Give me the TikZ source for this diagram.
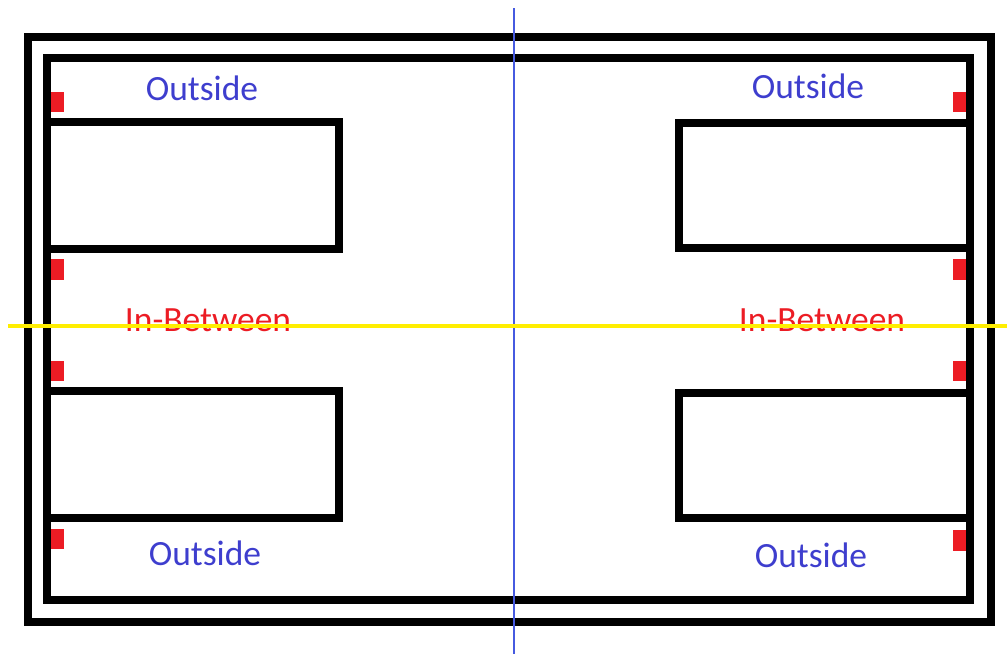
\documentclass[tikz,border=0pt]{standalone}
\usepackage{fontspec}
\setmainfont{Carlito}
\usetikzlibrary{positioning}
\definecolor{zoneblue}{RGB}{62,62,206}
\definecolor{markred}{RGB}{236,28,36}
\definecolor{axisblue}{RGB}{70,90,224}
\definecolor{axisyellow}{RGB}{255,238,0}
\tikzset{
  wall/.style    = {draw=black, line width=4.5pt},
  redmark/.style = {fill=markred},
  zone/.style    = {text=zoneblue, font=\fontsize{20.2}{24}\selectfont, inner sep=0pt},
  gapzone/.style = {text=markred, font=\fontsize{20.2}{24}\selectfont, inner sep=0pt},
  vaxis/.style   = {draw=axisblue, line width=0.9pt},
  haxis/.style   = {draw=axisyellow, line width=2.3pt},
}

\begin{document}
\begin{tikzpicture}[x=0.02cm, y=-0.02cm]
\useasboundingbox (0,0) rectangle (1007,654);

% --- frame ---
\draw[wall] (28,37) rectangle (991,622);
\draw[wall] (47,58) rectangle (970,600);

% --- boxes ---
\draw[wall] (47,122) rectangle (339,249);
\draw[wall] (47,391) rectangle (339,518);
\draw[wall] (679,123) rectangle (970,248);
\draw[wall] (679,393) rectangle (970,518);

% --- red marks ---
\fill[redmark] (51,92) rectangle (64,112);
\fill[redmark] (51,259) rectangle (64,280);
\fill[redmark] (51,361) rectangle (64,381);
\fill[redmark] (51,529) rectangle (64,549);
\fill[redmark] (953,92) rectangle (966,112);
\fill[redmark] (953,259) rectangle (966,280);
\fill[redmark] (953,361) rectangle (966,381);
\fill[redmark] (953,530) rectangle (966,551);

% --- labels ---
\node[zone] (outTL) at (202,88) {Outside};
\node[zone] (outTR) at (808,86) {Outside};
\node[zone] (outBL) at (205,553) {Outside};
\node[zone] (outBR) at (811,555) {Outside};
\node[gapzone] (gapL) at (208,320) {In-Between};
\node[gapzone] (gapR) at (822,320) {In-Between};

% --- axes ---
\coordinate (vtop) at (514,8);
\coordinate (vbot) at (514,654);
\coordinate (hleft) at (8,326);
\coordinate (hright) at (1007,326);
\draw[vaxis] (vtop) -- (vbot);
\draw[haxis] (hleft) -- (hright);
\end{tikzpicture}
\end{document}
